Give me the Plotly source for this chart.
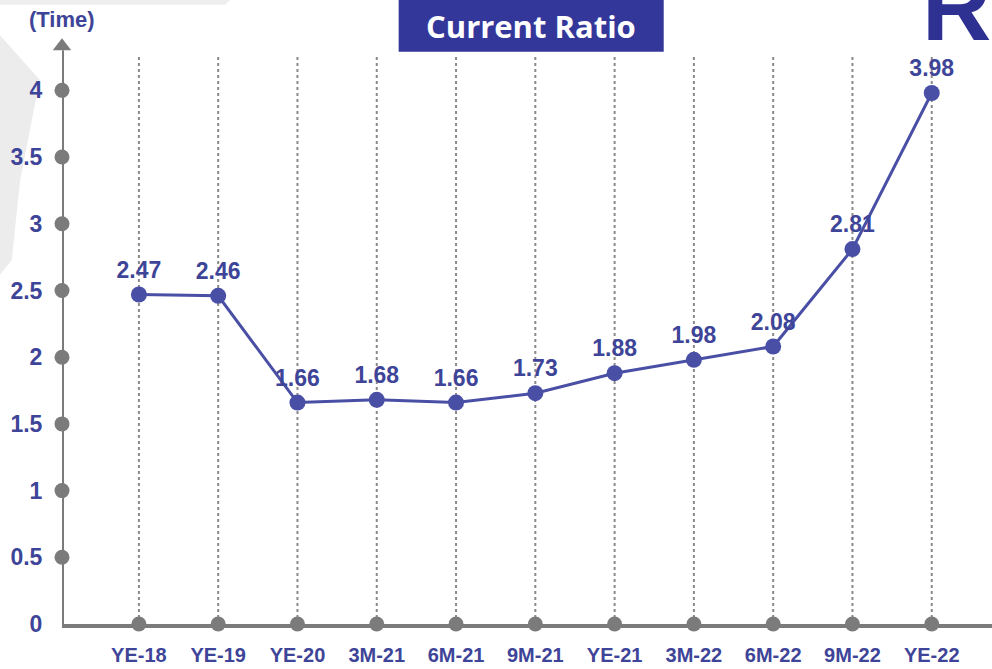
import plotly.graph_objects as go

# data
periods = ["YE-18", "YE-19", "YE-20", "3M-21", "6M-21", "9M-21",
           "YE-21", "3M-22", "6M-22", "9M-22", "YE-22"]
ratio = [2.47, 2.46, 1.66, 1.68, 1.66, 1.73, 1.88, 1.98, 2.08, 2.81, 3.98]
y_ticks = [0, 0.5, 1, 1.5, 2, 2.5, 3, 3.5, 4]
y_tick_text = ["0", "0.5", "1", "1.5", "2", "2.5", "3", "3.5", "4"]

blue = "#4a4fa6"
label_blue = "#3e4598"
grey = "#7b7b7b"
narrow = "Liberation Sans Narrow, Arial Narrow, Liberation Sans, sans-serif"

x_idx = list(range(len(periods)))
x_left = -0.97

fig = go.Figure()

# dotted vertical guides
for i in x_idx:
    fig.add_shape(type="line", x0=i, x1=i, y0=0, y1=4.27,
                  line=dict(color="#8a8a8a", width=2, dash="dot"), layer="below")

# y axis line + arrow
fig.add_shape(type="line", x0=x_left, x1=x_left, y0=0, y1=4.3,
              line=dict(color=grey, width=4))
fig.add_trace(go.Scatter(x=[x_left], y=[4.33], mode="markers",
                         marker=dict(symbol="triangle-up", size=16, color=grey),
                         cliponaxis=False, hoverinfo="skip", showlegend=False))

# grey dots on the axes
fig.add_trace(go.Scatter(x=[x_left] * len(y_ticks[1:]), y=y_ticks[1:], mode="markers",
                         marker=dict(size=15, color=grey), cliponaxis=False,
                         hoverinfo="skip", showlegend=False))
fig.add_trace(go.Scatter(x=x_idx, y=[0] * len(x_idx), mode="markers",
                         marker=dict(size=15, color=grey), cliponaxis=False,
                         hoverinfo="skip", showlegend=False))

# main series
fig.add_trace(go.Scatter(
    x=x_idx, y=ratio, mode="lines+markers+text",
    line=dict(color=blue, width=3),
    marker=dict(size=16, color=blue),
    text=[f"{v:.2f}" for v in ratio], textposition="top center",
    textfont=dict(family=narrow, size=23, color=label_blue, weight="bold"),
    cliponaxis=False, showlegend=False,
))

fig.update_layout(
    width=992, height=669,
    margin=dict(l=62, r=0, t=37, b=45, autoexpand=False),
    plot_bgcolor="white", paper_bgcolor="white",
    xaxis=dict(range=[x_left, 10.76], tickmode="array", tickvals=x_idx, ticktext=periods,
               showgrid=False, zeroline=False, showline=True, linecolor=grey, linewidth=4,
               ticks="outside", ticklen=10, tickcolor="rgba(0,0,0,0)", automargin=False,
               tickfont=dict(family=narrow, size=20, color=label_blue, weight="bold")),
    yaxis=dict(range=[0, 4.4], tickmode="array", tickvals=y_ticks, ticktext=y_tick_text,
               showgrid=False, zeroline=False, showline=False, automargin=False,
               ticks="outside", ticklen=14, tickcolor="rgba(0,0,0,0)",
               tickfont=dict(family=narrow, size=23, color=label_blue, weight="bold")),
)

# faint background shapes at left
fig.add_shape(type="path", xref="paper", yref="paper",
              path="M -0.0667 1.063 L 0.181 1.063 L 0.175 1.055 L -0.0667 1.055 Z",
              fillcolor="#eeeeee", line=dict(width=0), layer="below")
fig.add_shape(type="path", xref="paper", yref="paper",
              path="M -0.0667 1.003 L -0.024 0.927 L -0.045 0.756 L -0.054 0.62 L -0.0667 0.595 Z",
              fillcolor="#ececec", line=dict(width=0), layer="below")

# title box
fig.add_shape(type="rect", xref="paper", yref="paper",
              x0=0.362, x1=0.647, y0=0.975, y1=1.07,
              fillcolor="#34379a", line=dict(width=0))
fig.add_annotation(xref="paper", yref="paper", x=0.5045, y=1.019, yanchor="middle",
                   text="<b>Current Ratio</b>", showarrow=False,
                   font=dict(family="Open Sans, sans-serif", size=31, color="white"))

# unit label
fig.add_annotation(xref="paper", yref="paper", x=-0.038, y=1.029, xanchor="left", yanchor="middle",
                   text="<b>(Time)</b>", showarrow=False,
                   font=dict(family=narrow, size=22, color=label_blue))

# logo letter
fig.add_annotation(xref="paper", yref="paper", x=0.962, y=1.052, xanchor="center", yanchor="middle",
                   text="<b>R</b>", showarrow=False,
                   font=dict(family="Liberation Sans, Arial, sans-serif", size=96, color="#2e3192"))

fig.write_html("out.html", config={"displayModeBar": False},
               post_script="document.body.style.margin='0';document.body.style.overflow='hidden';")
